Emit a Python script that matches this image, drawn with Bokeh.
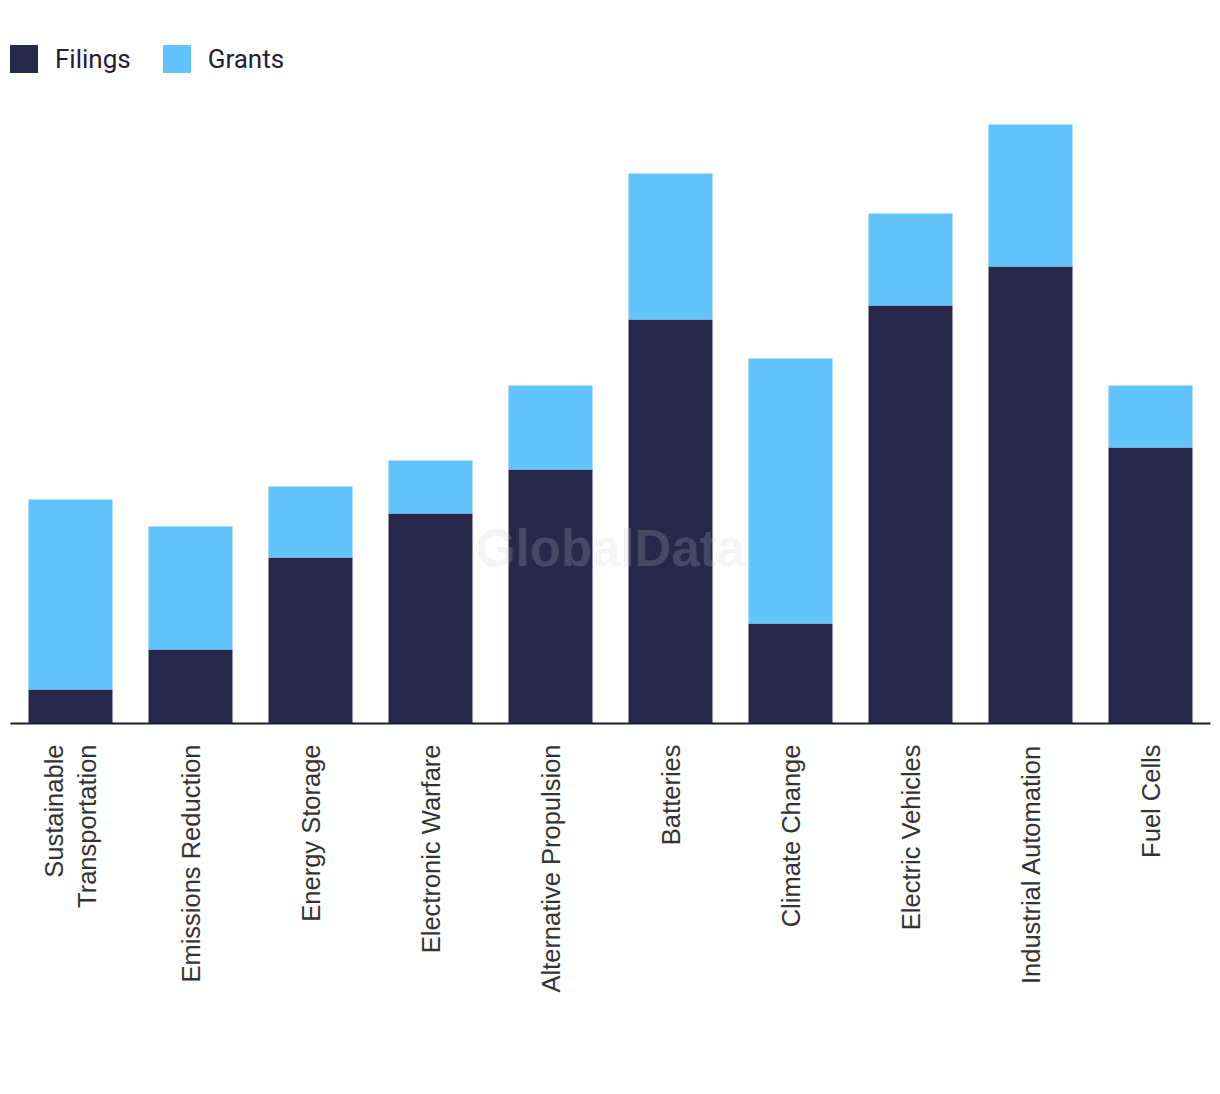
from bokeh.plotting import figure
from bokeh.models import Range1d, FactorRange, Legend, LegendItem, Label
from bokeh.embed import file_html
from bokeh.resources import INLINE
from math import pi

categories = ["Sustainable\nTransportation", "Emissions Reduction", "Energy Storage",
              "Electronic Warfare", "Alternative Propulsion", "Batteries",
              "Climate Change", "Electric Vehicles", "Industrial Automation", "Fuel Cells"]
filings = [34, 74, 166, 210, 254, 404, 100, 418, 457, 276]
grants = [190, 123, 71, 53, 84, 146, 265, 92, 142, 62]

NAVY = "#27284a"
BLUE = "#62c2fa"

p = figure(width=1220, height=1094, x_range=FactorRange(*categories, range_padding=0),
           y_range=Range1d(0, 723), output_backend="svg", toolbar_location=None,
           min_border_left=10, min_border_right=10, min_border_top=0, min_border_bottom=371)
p.outline_line_color = None
p.grid.visible = False
p.yaxis.visible = False

src = dict(cat=categories, Filings=filings, Grants=grants)
r = p.vbar_stack(["Filings", "Grants"], x="cat", width=0.7, source=src,
                 color=[NAVY, BLUE], line_color=None)

ax = p.xaxis[0]
ax.axis_line_color = "#1c1c30"
ax.axis_line_width = 2
ax.major_tick_line_color = None
ax.minor_tick_line_color = None
ax.major_label_orientation = pi / 2
ax.major_label_standoff = 15
ax.major_label_text_font = "Liberation Sans"
ax.major_label_text_font_size = "25.5px"
ax.major_label_text_color = "#333333"

wm = Label(x=600, y=723 - 548, x_units="screen", y_units="screen", text="GlobalData",
           text_font="Liberation Sans", text_font_style="bold", text_font_size="51px",
           text_color="#c8c8c8", text_alpha=0.2, text_align="center", text_baseline="middle")
p.add_layout(wm)

legend = Legend(items=[LegendItem(label="Filings", renderers=[r[0]]),
                       LegendItem(label="Grants", renderers=[r[1]])],
                orientation="horizontal", location=(-4, 647),
                glyph_width=35, glyph_height=35, label_standoff=14, spacing=28,
                padding=0, margin=0, border_line_color=None, background_fill_alpha=0,
                label_text_font="Roboto", label_text_font_size="26px",
                label_text_color="#1f2035")
p.add_layout(legend)

open("out.html", "w").write(file_html(p, INLINE))
